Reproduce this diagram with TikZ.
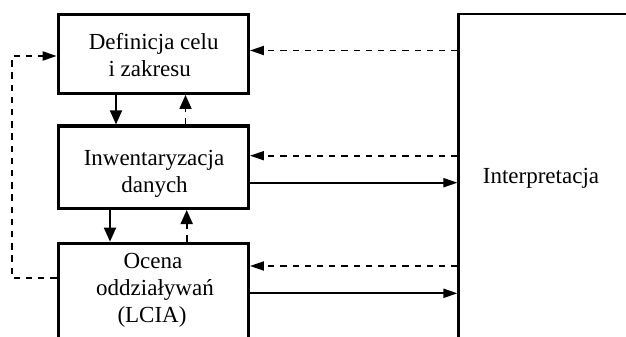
\documentclass[tikz,border=0pt]{standalone}
\usepackage{fontspec}
\setmainfont{Liberation Serif}
\usetikzlibrary{arrows.meta}

\tikzset{
  stage/.style={draw, line width=3.3pt, minimum width=190pt, inner sep=0pt},
  txt/.style={anchor=base, inner sep=0pt, font=\fontsize{23pt}{26.7pt}\selectfont},
  flow/.style={line width=1.8pt, -{Triangle[length=14pt,width=9pt]}},
  back/.style={flow, dash pattern=on 6.3pt off 5.9pt},
  vflow/.style={line width=1.8pt, -{Triangle[length=14pt,width=12pt]}},
  vback/.style={vflow, dash pattern=on 6.3pt off 5.9pt},
}

\begin{document}
\begin{tikzpicture}[x=1pt,y=-1pt]
  \clip (0,0) rectangle (626,337);

  % LCA phase boxes
  \node[stage, minimum height=79pt]   (def)  at (153.3,53.8)  {};
  \node[stage, minimum height=82.3pt] (inv)  at (153.3,167.2) {};
  \node[stage, minimum height=100pt]  (lcia) at (153.3,293.3) {};
  \node[draw, line width=2.5pt, minimum width=300pt, minimum height=400pt] (interp) at (608.7,213.8) {};

  % box captions
  \node[txt] (t1a) at (153.7,50)   {Definicja celu};
  \node[txt] (t1b) at (149.7,76.7) {i zakresu};
  \node[txt] (t2a) at (154,165.5)  {Inwentaryzacja};
  \node[txt] (t2b) at (154.5,192)  {danych};
  \node[txt] (t3a) at (153,268)    {Ocena};
  \node[txt] (t3b) at (155,295)    {oddziaływań};
  \node[txt] (t3c) at (152,322)    {(LCIA)};
  \node[txt] (ti)  at (541,183.3)  {Interpretacja};

  % vertical links between phases
  \draw[vflow] ([xshift=-37.3pt]def.south) -- ([xshift=-37.3pt]inv.north);
  \draw[vback] ([xshift=32.2pt]inv.north)  -- ([xshift=32.2pt]def.south);
  \draw[vflow] ([xshift=-43.3pt]inv.south) -- ([xshift=-43.3pt]lcia.north);
  \draw[vback] ([xshift=33.4pt]lcia.north) -- ([xshift=33.4pt]inv.south);

  % links to and from the interpretation phase
  \coordinate (r1) at ([yshift=3.3pt]def.east);
  \coordinate (r2) at ([yshift=11.5pt]inv.east);
  \coordinate (r3) at ([yshift=-15.5pt]inv.east);
  \coordinate (r4) at ([yshift=27.3pt]lcia.east);
  \coordinate (r5) at (lcia.east);
  \draw[back] (interp.west |- r1) -- (r1);
  \draw[back] (interp.west |- r2) -- (r2);
  \draw[flow] (r3) -- (interp.west |- r3);
  \draw[back] (interp.west |- r4) -- (r4);
  \draw[flow] (r5) -- (interp.west |- r5);

  % feedback loop from impact assessment to goal and scope
  \coordinate (l3) at ([yshift=15.3pt]lcia.west);
  \coordinate (l1) at ([yshift=-2.2pt]def.west);
  \draw[back] (l3) -- ++(-44.7pt,0) |- (l1);
\end{tikzpicture}
\end{document}
